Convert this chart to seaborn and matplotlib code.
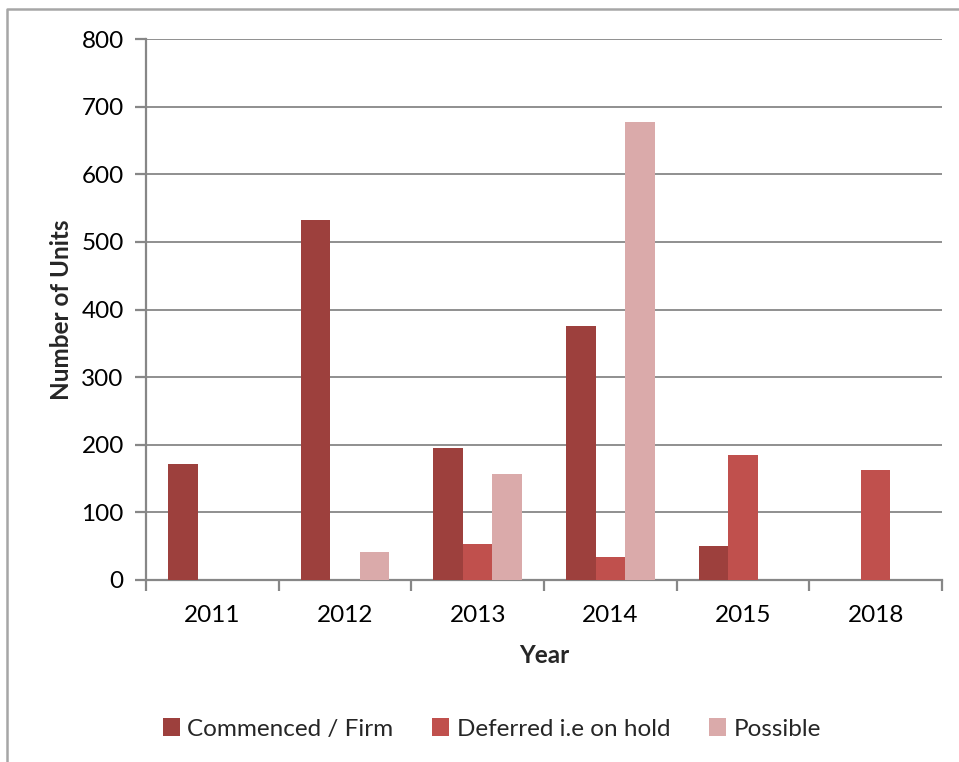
import matplotlib
matplotlib.use("Agg")
import matplotlib.pyplot as plt
from matplotlib.patches import Patch
from matplotlib.lines import Line2D
import seaborn as sns
import pandas as pd

# Units by year and status
years = ["2011", "2012", "2013", "2014", "2015", "2018"]
series = ["Commenced / Firm", "Deferred i.e on hold", "Possible"]
commenced = [171, 533, 195, 375, 50, 0]
deferred = [0, 0, 53, 34, 185, 163]
possible = [0, 42, 157, 677, 0, 0]
y_ticks = [0, 100, 200, 300, 400, 500, 600, 700, 800]

colors = ["#9D403D", "#C0504D", "#DAAAAA"]
grid_gray = "#878787"

rows = []
for name, vals in zip(series, [commenced, deferred, possible]):
    for yr, v in zip(years, vals):
        rows.append({"Year": yr, "Units": v, "Status": name})
df = pd.DataFrame(rows)

sns.set_theme(style="white")
plt.rcParams["font.family"] = ["Lato", "DejaVu Sans"]

W, H = 959, 762
fig = plt.figure(figsize=(W / 100, H / 100), dpi=100)
ax = fig.add_axes([146 / W, (H - 580) / H, (942 - 146) / W, (580 - 39) / H])

sns.barplot(data=df, x="Year", y="Units", hue="Status", order=years,
            hue_order=series, palette=colors, saturation=1, width=0.667,
            linewidth=0, ax=ax, legend=False, zorder=3)

ax.set_ylim(0, 800)
ax.set_xlim(-0.5, len(years) - 0.5)
ax.set_yticks(y_ticks)
ax.set_yticklabels([str(t) for t in y_ticks])
ax.yaxis.grid(True, color=grid_gray, linewidth=1.3, zorder=0)
ax.set_axisbelow(True)

for side in ["top", "right"]:
    ax.spines[side].set_visible(False)
for side in ["left", "bottom"]:
    ax.spines[side].set_color(grid_gray)
    ax.spines[side].set_linewidth(1.6)

# category boundary ticks on the x axis
ax.set_xticks([i - 0.5 for i in range(len(years) + 1)], minor=True)
ax.tick_params(axis="x", which="minor", length=8, width=1.6, color=grid_gray,
               direction="out", bottom=True)
ax.tick_params(axis="x", which="major", length=0, pad=18, labelsize=17.5,
               labelcolor="black")
ax.tick_params(axis="y", length=8, width=1.6, color=grid_gray, direction="out",
               left=True, pad=8, labelsize=17.5, labelcolor="black")

ax.set_xlabel("Year", fontsize=17.5, fontweight="bold", labelpad=13)
ax.set_ylabel("Number of Units", fontsize=17.5, fontweight="bold", labelpad=6)

handles = [Patch(facecolor=c, edgecolor="none") for c in colors]
fig.legend(handles, series, loc="center", bbox_to_anchor=(0.513, (H - 729) / H),
           ncol=3, frameon=False, fontsize=17.5, handlelength=0.7,
           handleheight=0.7, handletextpad=0.3, columnspacing=1.6)

# chart area border (left and top edges)
fig.add_artist(Line2D([7 / W, 7 / W, 1.0], [0.0, (H - 9) / H, (H - 9) / H],
                      transform=fig.transFigure, color="#A6A6A6", linewidth=1.8))

fig.savefig("out.png", dpi=100)
